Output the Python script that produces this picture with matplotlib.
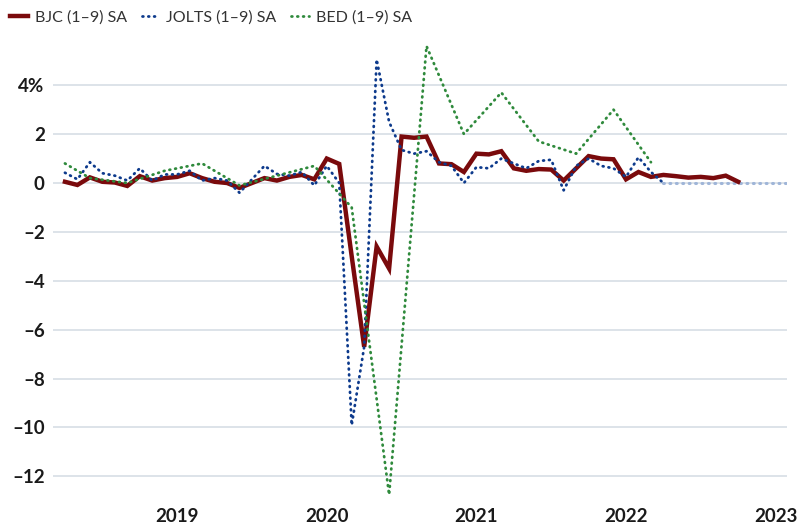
import numpy as np
import matplotlib
matplotlib.use("Agg")
import matplotlib.pyplot as plt

plt.rcParams["font.family"] = ["Lato", "DejaVu Sans"]

# monthly index 0 = Apr 2018
bjc = [0.05, -0.08, 0.23, 0.05, 0.02, -0.12, 0.28, 0.1, 0.2, 0.25, 0.4, 0.2,
       0.05, 0.0, -0.2, 0.0, 0.2, 0.1, 0.25, 0.33, 0.15, 1.0, 0.78, -3.0,
       -6.7, -2.6, -3.5, 1.9, 1.85, 1.9, 0.8, 0.77, 0.45, 1.2, 1.17, 1.3,
       0.6, 0.5, 0.57, 0.55, 0.1, 0.6, 1.1, 1.0, 0.97, 0.15, 0.45, 0.25,
       0.33, 0.28, 0.22, 0.25, 0.2, 0.3, 0.05]

jolts = [0.42, 0.15, 0.85, 0.4, 0.3, 0.1, 0.6, 0.1, 0.35, 0.35, 0.5, 0.1,
         0.2, 0.1, -0.4, 0.15, 0.7, 0.37, 0.3, 0.45, -0.1, 0.7, 0.0, -9.9,
         -6.7, 5.05, 2.5, 1.35, 1.2, 1.3, 0.85, 0.7, 0.0, 0.65, 0.6, 1.0,
         0.8, 0.6, 0.9, 0.95, -0.3, 0.7, 1.0, 0.7, 0.6, 0.25, 1.05, 0.45,
         0.0]
jolts_pending = [0.0] * 10  # months 48..57, no data yet

bed_months = [0, 2, 5, 8, 11, 14, 17, 20, 23, 26, 29, 32, 35, 38, 41, 44, 47]
bed = [0.8, 0.2, 0.0, 0.5, 0.8, -0.1, 0.3, 0.7, -1.0, -12.75, 5.6, 2.0,
       3.7, 1.7, 1.2, 3.0, 0.85]

year_ticks = [9, 21, 33, 45, 57]
year_labels = ["2019", "2020", "2021", "2022", "2023"]
y_ticks = [4, 2, 0, -2, -4, -6, -8, -10, -12]
y_labels = ["4%", "2", "0", "–2", "–4", "–6", "–8", "–10", "–12"]

red = "#7a0a0c"
blue = "#0d3a8c"
green = "#2f8a3c"
pale = "#9fb5d8"

fig = plt.figure(figsize=(7.98, 5.27), dpi=100)
ax = fig.add_axes([0.0664, 0.0404, 0.986 - 0.0664, 0.8814])

dots = (0, (0.3, 1.8))
ax.plot(range(len(bjc)), bjc, color=red, lw=3.2, solid_joinstyle="miter",
        label="BJC (1–9) SA", zorder=3)
ax.plot(range(len(jolts)), jolts, color=blue, lw=2.0, linestyle=dots,
        dash_capstyle="round", label="JOLTS (1–9) SA", zorder=4)
ax.plot(range(len(jolts) - 1, len(jolts) + len(jolts_pending)),
        [jolts[-1]] + jolts_pending, color=pale, lw=2.2, linestyle=dots,
        dash_capstyle="round", zorder=2)
ax.plot(bed_months, bed, color=green, lw=2.0, linestyle=dots,
        dash_capstyle="round", label="BED (1–9) SA", zorder=4)

ax.set_xlim(-0.96, 57.9)
ax.set_ylim(-13.2, 5.8)
ax.set_yticks(y_ticks)
ax.set_yticklabels(y_labels)
ax.set_xticks(year_ticks)
ax.set_xticklabels(year_labels)
ax.grid(axis="y", color="#d3dbe3", lw=1.1)
ax.set_axisbelow(True)
for s in ax.spines.values():
    s.set_visible(False)
ax.tick_params(axis="both", length=0, labelsize=13.5, labelcolor="#1a1a1a")
ax.tick_params(axis="y", pad=6)
ax.tick_params(axis="x", pad=2)
for t in ax.get_xticklabels() + ax.get_yticklabels():
    t.set_fontweight("bold")

leg = fig.legend(loc="upper left", bbox_to_anchor=(0.0, 1.0), ncol=3,
                 frameon=False, fontsize=11.5, handlelength=1.1,
                 handletextpad=0.45, columnspacing=0.9, borderaxespad=0.25)
for t in leg.get_texts():
    t.set_color("#333333")

fig.savefig("out.png", dpi=100)
